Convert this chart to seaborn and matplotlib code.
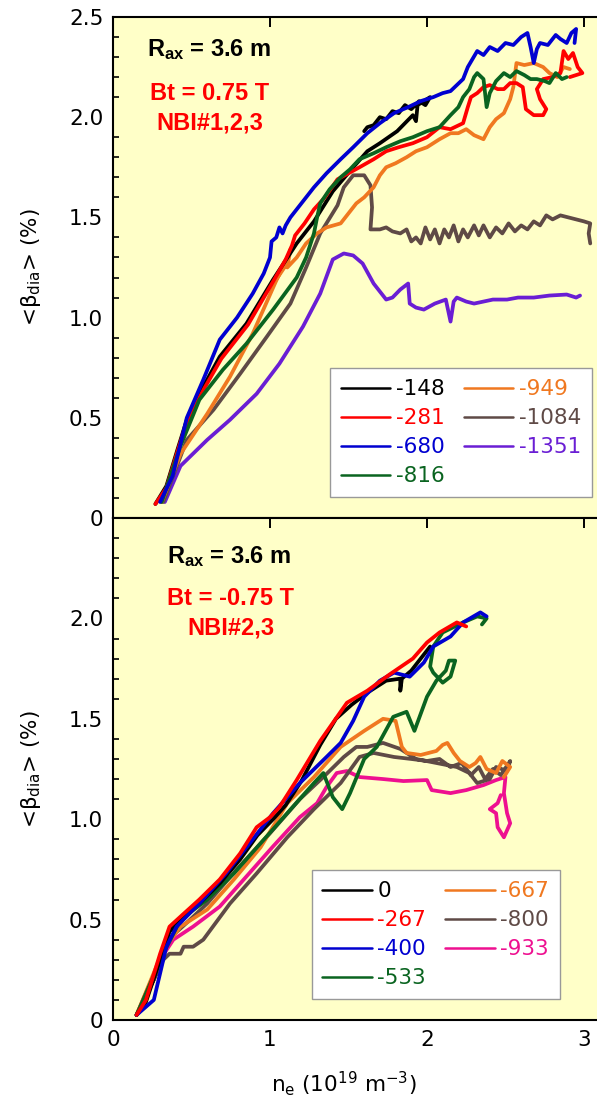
import numpy as np
import pandas as pd
import matplotlib
matplotlib.use("Agg")
import matplotlib.pyplot as plt
import seaborn as sns
from matplotlib.lines import Line2D
from matplotlib.ticker import MultipleLocator, FixedLocator, FixedFormatter

# ---------------- data ----------------
# Top panel: Bt = 0.75 T, NBI#1,2,3
top_labels = ["-148", "-281", "-680", "-816", "-949", "-1084", "-1351"]

t148_x = [0.27, 0.34, 0.41, 0.47, 0.575, 0.68, 0.85, 1.02, 1.17, 1.28, 1.40, 1.53, 1.62, 1.70, 1.81, 1.91,
          1.93, 1.94, 1.98, 2.02, 1.99, 1.95, 1.90, 1.86, 1.82, 1.78, 1.74, 1.70, 1.66, 1.62, 1.60]
t148_y = [0.07, 0.16, 0.34, 0.49, 0.655, 0.805, 0.97, 1.19, 1.37, 1.48, 1.63, 1.75, 1.83, 1.87, 1.93, 2.01,
          1.98, 2.06, 2.08, 2.10, 2.06, 2.08, 2.04, 2.06, 2.02, 2.03, 1.99, 2.00, 1.96, 1.95, 1.93]

t281_x = [0.27, 0.34, 0.41, 0.47, 0.58, 0.69, 0.86, 1.02, 1.10, 1.14, 1.16, 1.22, 1.28, 1.35, 1.43, 1.50,
          1.57, 1.66, 1.74, 1.82, 1.91, 2.00, 2.08, 2.15, 2.23, 2.26, 2.28, 2.32, 2.36, 2.40, 2.45, 2.49,
          2.53, 2.57, 2.61, 2.63, 2.68, 2.74, 2.76, 2.72, 2.70, 2.74, 2.80, 2.85, 2.87, 2.90, 2.93, 2.96,
          2.99, 2.95, 2.91]
t281_y = [0.07, 0.15, 0.33, 0.48, 0.645, 0.795, 0.965, 1.18, 1.29, 1.36, 1.41, 1.47, 1.54, 1.60, 1.69, 1.72,
          1.75, 1.79, 1.83, 1.85, 1.87, 1.90, 1.95, 1.94, 1.97, 2.05, 2.10, 2.12, 2.15, 2.16, 2.14, 2.14,
          2.17, 2.17, 2.15, 2.04, 2.01, 2.01, 2.04, 2.09, 2.14, 2.19, 2.20, 2.22, 2.33, 2.29, 2.32, 2.25,
          2.22, 2.21, 2.20]

t680_x = [0.30, 0.38, 0.47, 0.575, 0.68, 0.79, 0.89, 0.96, 1.00, 1.01, 1.04, 1.06, 1.08, 1.10, 1.13, 1.20,
          1.28, 1.36, 1.45, 1.53, 1.62, 1.70, 1.79, 1.88, 1.96, 2.04, 2.10, 2.15, 2.23, 2.26, 2.29, 2.32,
          2.36, 2.40, 2.45, 2.50, 2.55, 2.60, 2.64, 2.66, 2.68, 2.70, 2.72, 2.77, 2.82, 2.85, 2.89, 2.92,
          2.95, 2.94]
t680_y = [0.08, 0.21, 0.50, 0.69, 0.89, 1.00, 1.12, 1.22, 1.30, 1.38, 1.40, 1.45, 1.42, 1.46, 1.50, 1.57,
          1.65, 1.72, 1.79, 1.85, 1.92, 1.97, 2.02, 2.05, 2.08, 2.10, 2.12, 2.13, 2.19, 2.25, 2.29, 2.33,
          2.31, 2.35, 2.33, 2.37, 2.36, 2.40, 2.42, 2.35, 2.27, 2.34, 2.37, 2.36, 2.41, 2.39, 2.37, 2.42,
          2.44, 2.37]

t816_x = [0.31, 0.43, 0.55, 0.70, 0.85, 1.02, 1.17, 1.23, 1.28, 1.30, 1.32, 1.38, 1.45, 1.51, 1.57, 1.66,
          1.74, 1.83, 1.91, 2.00, 2.08, 2.15, 2.20, 2.23, 2.27, 2.30, 2.32, 2.36, 2.38, 2.40, 2.44, 2.49,
          2.53, 2.57, 2.62, 2.66, 2.70, 2.75, 2.78, 2.82, 2.86, 2.89]
t816_y = [0.08, 0.36, 0.59, 0.74, 0.87, 1.04, 1.20, 1.30, 1.42, 1.50, 1.57, 1.64, 1.70, 1.74, 1.79, 1.82,
          1.85, 1.88, 1.90, 1.93, 1.95, 2.01, 2.05, 2.10, 2.14, 2.20, 2.22, 2.19, 2.05, 2.12, 2.18, 2.22,
          2.20, 2.23, 2.21, 2.19, 2.19, 2.18, 2.17, 2.22, 2.19, 2.20]

t949_x = [0.31, 0.43, 0.60, 0.745, 0.89, 1.02, 1.06, 1.04, 1.10, 1.13, 1.11, 1.17, 1.23, 1.30, 1.36, 1.45,
          1.50, 1.55, 1.60, 1.66, 1.70, 1.74, 1.80, 1.87, 1.93, 2.00, 2.08, 2.15, 2.20, 2.25, 2.30, 2.36,
          2.40, 2.44, 2.49, 2.53, 2.55, 2.57, 2.62, 2.68, 2.74, 2.78, 2.83, 2.87, 2.91]
t949_y = [0.08, 0.32, 0.52, 0.705, 0.92, 1.15, 1.22, 1.19, 1.26, 1.34, 1.25, 1.30, 1.37, 1.42, 1.45, 1.47,
          1.52, 1.57, 1.60, 1.65, 1.71, 1.75, 1.77, 1.80, 1.83, 1.85, 1.89, 1.92, 1.92, 1.94, 1.91, 1.89,
          1.95, 1.99, 2.02, 2.09, 2.15, 2.27, 2.26, 2.27, 2.25, 2.22, 2.20, 2.25, 2.24]

t1084_x = [0.32, 0.47, 0.64, 0.81, 0.98, 1.13, 1.23, 1.32, 1.43, 1.47, 1.53, 1.60, 1.64, 1.65, 1.64, 1.70,
           1.74, 1.78, 1.83, 1.87, 1.90, 1.93, 1.96, 1.99, 2.02, 2.05, 2.08, 2.11, 2.14, 2.17, 2.20, 2.23,
           2.26, 2.30, 2.33, 2.36, 2.40, 2.44, 2.48, 2.52, 2.56, 2.60, 2.64, 2.68, 2.72, 2.76, 2.80, 2.85,
           2.90, 2.95, 3.00, 3.04, 3.03, 3.04]
t1084_y = [0.08, 0.39, 0.54, 0.72, 0.905, 1.07, 1.25, 1.42, 1.56, 1.65, 1.71, 1.71, 1.66, 1.55, 1.44, 1.44,
           1.45, 1.43, 1.42, 1.44, 1.38, 1.40, 1.37, 1.45, 1.39, 1.44, 1.37, 1.44, 1.40, 1.46, 1.38, 1.44,
           1.40, 1.46, 1.41, 1.46, 1.40, 1.45, 1.42, 1.47, 1.43, 1.46, 1.44, 1.48, 1.46, 1.51, 1.49, 1.51,
           1.50, 1.49, 1.48, 1.47, 1.42, 1.37]

t1351_x = [0.33, 0.43, 0.60, 0.745, 0.915, 1.06, 1.21, 1.32, 1.40, 1.47, 1.53, 1.59, 1.66, 1.74, 1.78, 1.83,
           1.88, 1.89, 1.93, 1.98, 2.05, 2.12, 2.15, 2.17, 2.19, 2.25, 2.30, 2.36, 2.42, 2.51, 2.58, 2.68,
           2.78, 2.89, 2.95, 2.975]
t1351_y = [0.08, 0.26, 0.39, 0.49, 0.62, 0.77, 0.955, 1.12, 1.29, 1.32, 1.31, 1.27, 1.17, 1.09, 1.10, 1.14,
           1.17, 1.07, 1.05, 1.04, 1.07, 1.09, 0.98, 1.08, 1.10, 1.08, 1.07, 1.08, 1.09, 1.09, 1.10, 1.10,
           1.11, 1.115, 1.10, 1.11]

# Bottom panel: Bt = -0.75 T, NBI#2,3
bot_labels = ["0", "-267", "-400", "-533", "-667", "-800", "-933"]

b0_x = [0.15, 0.21, 0.30, 0.36, 0.43, 0.55, 0.68, 0.81, 0.92, 1.02, 1.10, 1.20, 1.32, 1.42, 1.52, 1.62,
        1.74, 1.83, 1.83, 1.84, 1.90, 1.98, 2.02]
b0_y = [0.025, 0.09, 0.30, 0.44, 0.50, 0.58, 0.68, 0.80, 0.92, 1.00, 1.07, 1.19, 1.37, 1.50, 1.57, 1.63,
        1.69, 1.70, 1.64, 1.70, 1.74, 1.82, 1.86]

b267_x = [0.15, 0.21, 0.30, 0.36, 0.43, 0.55, 0.68, 0.81, 0.915, 1.00, 1.06, 1.17, 1.32, 1.49, 1.62, 1.76,
          1.91, 2.00, 2.08, 2.19, 2.25]
b267_y = [0.025, 0.10, 0.33, 0.465, 0.515, 0.60, 0.70, 0.83, 0.96, 1.01, 1.06, 1.195, 1.39, 1.58, 1.64, 1.72,
          1.80, 1.88, 1.93, 1.98, 1.96]

b400_x = [0.15, 0.26, 0.34, 0.405, 0.55, 0.72, 0.89, 1.02, 1.19, 1.36, 1.45, 1.53, 1.60, 1.70, 1.79, 1.89,
          1.98, 2.04, 2.15, 2.23, 2.34, 2.38]
b400_y = [0.025, 0.10, 0.365, 0.465, 0.58, 0.73, 0.90, 1.03, 1.18, 1.31, 1.38, 1.49, 1.61, 1.69, 1.73, 1.71,
          1.78, 1.86, 1.91, 1.98, 2.03, 2.01]

b533_x = [0.15, 0.32, 0.43, 0.60, 0.77, 0.94, 1.11, 1.28, 1.34, 1.40, 1.46, 1.51, 1.60, 1.68, 1.785, 1.87,
          1.92, 2.00, 2.06, 2.12, 2.14, 2.18, 2.15, 2.10, 2.04, 2.02, 2.04, 2.10, 2.23, 2.32, 2.38, 2.35]
b533_y = [0.025, 0.33, 0.50, 0.60, 0.73, 0.88, 1.03, 1.18, 1.23, 1.11, 1.05, 1.13, 1.30, 1.36, 1.51, 1.535,
          1.44, 1.61, 1.69, 1.74, 1.79, 1.79, 1.71, 1.68, 1.73, 1.76, 1.86, 1.93, 1.98, 2.01, 2.00, 1.97]

b667_x = [0.15, 0.32, 0.43, 0.60, 0.77, 0.94, 1.11, 1.28, 1.45, 1.60, 1.72, 1.80, 1.84, 1.87, 1.96, 2.06,
          2.10, 2.13, 2.17, 2.21, 2.27, 2.31, 2.34, 2.38, 2.44, 2.48, 2.53, 2.49]
b667_y = [0.025, 0.35, 0.465, 0.55, 0.70, 0.86, 1.08, 1.21, 1.36, 1.44, 1.50, 1.49, 1.36, 1.33, 1.32, 1.34,
          1.37, 1.38, 1.33, 1.29, 1.26, 1.28, 1.31, 1.25, 1.23, 1.29, 1.26, 1.21]

b800_x = [0.15, 0.32, 0.36, 0.43, 0.45, 0.51, 0.575, 0.745, 0.915, 1.11, 1.28, 1.45, 1.57, 1.66, 1.79, 1.90,
          2.00, 2.08, 2.15, 2.22, 2.28, 2.33, 2.37, 2.42, 2.47, 2.53, 2.51, 2.44, 2.40, 2.32, 2.27, 2.19,
          2.06, 1.93, 1.83, 1.72, 1.62, 1.55, 1.47, 1.34, 1.19, 1.00, 0.80, 0.60, 0.45, 0.35, 0.26, 0.15]
b800_y = [0.025, 0.30, 0.33, 0.33, 0.365, 0.365, 0.40, 0.58, 0.73, 0.91, 1.05, 1.18, 1.31, 1.33, 1.31, 1.30,
          1.29, 1.30, 1.26, 1.28, 1.22, 1.26, 1.20, 1.25, 1.22, 1.29, 1.24, 1.26, 1.20, 1.18, 1.23, 1.26,
          1.28, 1.30, 1.35, 1.38, 1.36, 1.36, 1.31, 1.21, 1.10, 0.93, 0.76, 0.58, 0.47, 0.40, 0.20, 0.025]

b933_x = [0.15, 0.30, 0.384, 0.51, 0.68, 0.85, 1.02, 1.19, 1.30, 1.36, 1.425, 1.49, 1.57, 1.72, 1.85, 2.00,
          2.03, 2.15, 2.25, 2.36, 2.44, 2.50, 2.49, 2.51, 2.53, 2.49, 2.45, 2.44, 2.40, 2.45, 2.47]
b933_y = [0.025, 0.30, 0.40, 0.465, 0.565, 0.715, 0.865, 1.01, 1.08, 1.16, 1.23, 1.24, 1.21, 1.20, 1.19, 1.195,
          1.145, 1.13, 1.145, 1.17, 1.195, 1.21, 1.13, 1.03, 0.98, 0.91, 0.96, 1.03, 1.05, 1.08, 1.12]

x_ticks = [0, 1, 2, 3]
y_ticks_top = [0, 0.5, 1.0, 1.5, 2.0, 2.5]
y_tick_labels_top = ["0", "0.5", "1.0", "1.5", "2.0", "2.5"]
y_ticks_bot = [0, 0.5, 1.0, 1.5, 2.0, 2.5]
y_tick_labels_bot = ["0", "0.5", "1.0", "1.5", "2.0", ""]

# ---------------- style ----------------
sns.set_theme(style="white")
plt.rcParams["font.family"] = ["DejaVu Sans"]
plt.rcParams["mathtext.fontset"] = "dejavusans"
plt.rcParams["mathtext.default"] = "regular"

BG = "#ffffc8"
colors_top = ["#000000", "#ff0000", "#0000d0", "#0a6420", "#f07820", "#5f4a46", "#6a1ed4"]
colors_bot = ["#000000", "#ff0000", "#0000d0", "#0a6420", "#f07820", "#5f4a46", "#ee1090"]
LW = 2.7
FS = 15.5


def frame(xs, ys):
    return pd.DataFrame({"x": xs, "y": ys, "seg": [0] * len(xs)})


fig = plt.figure(figsize=(5.97, 11.15), dpi=100)
fig.patch.set_facecolor("white")
ax1 = fig.add_axes([0.1893, 0.5354, 0.8107, 0.4494])
ax2 = fig.add_axes([0.1893, 0.0852, 0.8107, 0.4502])

top_series = [(t148_x, t148_y), (t281_x, t281_y), (t680_x, t680_y), (t816_x, t816_y),
              (t949_x, t949_y), (t1084_x, t1084_y), (t1351_x, t1351_y)]
bot_series = [(b0_x, b0_y), (b267_x, b267_y), (b400_x, b400_y), (b533_x, b533_y),
              (b667_x, b667_y), (b800_x, b800_y), (b933_x, b933_y)]

top_order = [6, 5, 4, 0, 1, 3, 2]
bot_order = [6, 5, 4, 3, 0, 2, 1]

for ax, series, cols, order in [(ax1, top_series, colors_top, top_order),
                                (ax2, bot_series, colors_bot, bot_order)]:
    ax.set_facecolor(BG)
    for i in order:
        xs, ys = series[i]
        sns.lineplot(data=frame(xs, ys), x="x", y="y", units="seg", estimator=None,
                     sort=False, color=cols[i], lw=LW, ax=ax, legend=False)
    ax.set_xlim(0, 3.083)
    ax.set_ylim(0, 2.5)
    ax.xaxis.set_major_locator(FixedLocator(x_ticks))
    ax.yaxis.set_minor_locator(MultipleLocator(0.1))
    ax.tick_params(axis="both", which="both", direction="in", top=True, right=False,
                   labelsize=FS, color="black", labelcolor="black", pad=7)
    ax.tick_params(axis="both", which="major", length=7, width=1.4)
    ax.tick_params(axis="y", which="minor", length=4.5, width=1.2, left=True)
    ax.tick_params(axis="x", which="minor", bottom=False, top=False)
    for side in ["left", "bottom", "top"]:
        ax.spines[side].set_visible(True)
        ax.spines[side].set_color("black")
        ax.spines[side].set_linewidth(1.5)
    ax.spines["right"].set_visible(False)
    ax.set_ylabel(r"<$\beta_{dia}$> (%)", fontsize=FS, labelpad=19, color="black")

ax1.yaxis.set_major_locator(FixedLocator(y_ticks_top))
ax1.yaxis.set_major_formatter(FixedFormatter(y_tick_labels_top))
ax2.yaxis.set_major_locator(FixedLocator(y_ticks_bot))
ax2.yaxis.set_major_formatter(FixedFormatter(y_tick_labels_bot))
ax1.tick_params(axis="x", labelbottom=False)
ax1.set_xlabel("")
ax2.set_xlabel(r"n$_e$ (10$^{19}$ m$^{-3}$)", fontsize=FS, color="black")
ax2.xaxis.set_label_coords(0.477, -0.098)

# legends
for ax, labels, cols, anchor in [(ax1, top_labels, colors_top, (0.9897, 0.0419)),
                                 (ax2, bot_labels, colors_bot, (0.9236, 0.0418))]:
    handles = [Line2D([], [], color=c, lw=1.8) for c in cols]
    leg = ax.legend(handles, labels, ncol=2, loc="lower right", bbox_to_anchor=anchor,
                    fontsize=FS, labelcolor="linecolor", frameon=True, fancybox=False,
                    framealpha=1, edgecolor="#999999", facecolor="white",
                    handlelength=2.3, handletextpad=0.25, columnspacing=0.9,
                    labelspacing=0.42, borderpad=0.5, borderaxespad=0)
    leg.get_frame().set_linewidth(1.0)

# annotations
txt_kw = dict(fontsize=17, fontweight="bold", ha="center", va="baseline",
              family=["Liberation Sans", "DejaVu Sans"])
ax1.text(0.198, 0.922, r"R$_{ax}$ = 3.6 m", transform=ax1.transAxes, color="black", **txt_kw)
ax1.text(0.200, 0.834, "Bt = 0.75 T", transform=ax1.transAxes, color="#ff0000", **txt_kw)
ax1.text(0.200, 0.776, "NBI#1,2,3", transform=ax1.transAxes, color="#ff0000", **txt_kw)
ax2.text(0.240, 0.910, r"R$_{ax}$ = 3.6 m", transform=ax2.transAxes, color="black", **txt_kw)
ax2.text(0.242, 0.827, "Bt = -0.75 T", transform=ax2.transAxes, color="#ff0000", **txt_kw)
ax2.text(0.244, 0.767, "NBI#2,3", transform=ax2.transAxes, color="#ff0000", **txt_kw)

fig.savefig("out.png", dpi=100, facecolor="white")
